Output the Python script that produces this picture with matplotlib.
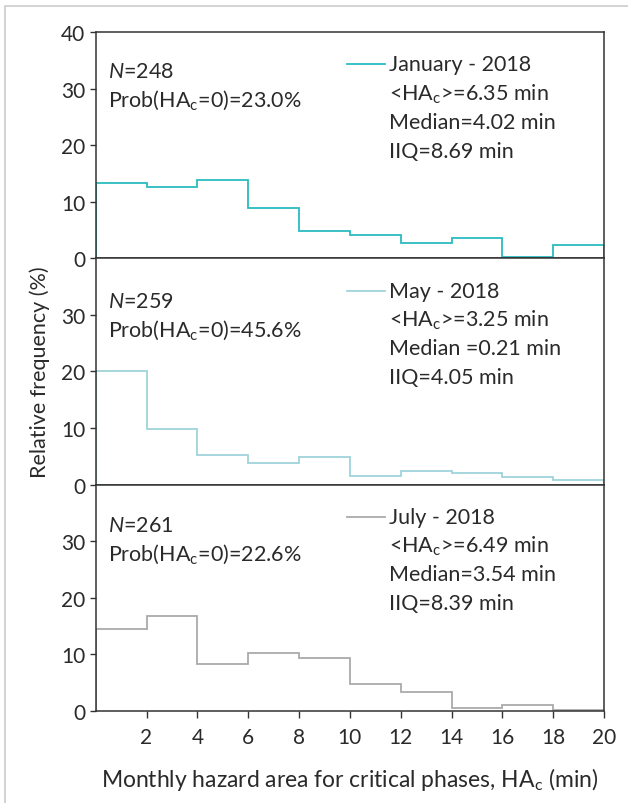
import numpy as np
import matplotlib
matplotlib.use("Agg")
import matplotlib.pyplot as plt
from matplotlib.patches import Rectangle

plt.rcParams['font.family'] = ['Lato', 'DejaVu Sans']
plt.rcParams['mathtext.fontset'] = 'custom'
plt.rcParams['mathtext.rm'] = 'Lato'
plt.rcParams['mathtext.it'] = 'Lato:italic'
plt.rcParams['mathtext.default'] = 'regular'

# bin edges (min) and relative frequencies (%) per month
bin_edges = [0, 2, 4, 6, 8, 10, 12, 14, 16, 18, 20]
jan_freq = [13.4, 12.7, 13.9, 9.0, 4.9, 4.2, 2.7, 3.6, 0.2, 2.4]
may_freq = [20.0, 9.9, 5.3, 3.9, 4.9, 1.6, 2.4, 2.0, 1.3, 0.8]
jul_freq = [14.4, 16.7, 8.3, 10.2, 9.3, 4.7, 3.3, 0.5, 1.0, 0.1]

months = ['January - 2018', 'May - 2018', 'July - 2018']
n_obs = [248, 259, 261]
prob_zero = ['23.0', '45.6', '22.6']
mean_ha = ['6.35', '3.25', '6.49']
median_ha = ['Median=4.02 min', 'Median =0.21 min', 'Median=3.54 min']
iiq_ha = ['8.69', '4.05', '8.39']
colors = ['#2bbcc0', '#9fd3db', '#aaaaaa']

x_ticks = [2, 4, 6, 8, 10, 12, 14, 16, 18, 20]

freqs = [jan_freq, may_freq, jul_freq]

fig, axes = plt.subplots(3, 1, figsize=(6.28, 8.04), dpi=100, sharex=True)
fig.subplots_adjust(left=0.1524, right=0.9618, bottom=0.1148, top=0.9586, hspace=0)

spine_col = '#333333'
txt_col = '#2a2a2a'
fs = 15.5
# vertical offset of the left annotation block per panel (axes fraction)
n_ypos = [0.83, 0.81, 0.82]

for i, ax in enumerate(axes):
    ax.stairs(freqs[i], bin_edges, color=colors[i], lw=1.3)
    ax.set_xlim(0, 20)
    ax.set_ylim(0, 40)
    if i == 0:
        ax.set_yticks([0, 10, 20, 30, 40])
    else:
        ax.set_yticks([0, 10, 20, 30])
    for s in ax.spines.values():
        s.set_color(spine_col)
        s.set_linewidth(1.1)
    ax.tick_params(axis='y', direction='out', length=4.5, width=1, color=spine_col,
                   labelsize=15, pad=3, labelcolor=txt_col)
    if i < 2:
        ax.tick_params(axis='x', bottom=False, labelbottom=False)

    # left annotations
    ax.text(0.024, n_ypos[i], r'$\mathit{N}$=%d' % n_obs[i], transform=ax.transAxes,
            fontsize=fs, va='center', ha='left', color=txt_col)
    ax.text(0.024, n_ypos[i] - 0.125, r'Prob(HA$_{c}$=0)=' + prob_zero[i] + '%',
            transform=ax.transAxes, fontsize=fs, va='center', ha='left', color=txt_col)

    # legend-like block
    y0 = 0.858
    dy = 0.1275
    ax.plot([0.494, 0.569], [y0, y0], transform=ax.transAxes, color=colors[i], lw=1.3)
    lines = [months[i],
             r'<HA$_{c}$>=' + mean_ha[i] + ' min',
             median_ha[i],
             'IIQ=' + iiq_ha[i] + ' min']
    for k, t in enumerate(lines):
        ax.text(0.577, y0 - k * dy, t, transform=ax.transAxes, fontsize=fs,
                va='center', ha='left', color=txt_col)

axes[2].set_xticks(x_ticks)
axes[2].tick_params(axis='x', direction='out', length=5, width=1, color=spine_col,
                    labelsize=15, pad=7, labelcolor=txt_col)
axes[2].set_xlabel(r'Monthly hazard area for critical phases, HA$_{c}$ (min)',
                   fontsize=16.5, labelpad=13, color=txt_col)

fig.text(0.063, 0.537, 'Relative frequency (%)', rotation=90, fontsize=15.5,
         va='center', ha='center', color=txt_col)

# light outer frame (only left and top edges visible)
fig.patches.append(Rectangle((0.008, -0.1), 1.2, 1.091, transform=fig.transFigure,
                             fill=False, edgecolor='#cccccc', lw=1.2))

fig.savefig('out.png', dpi=100)
